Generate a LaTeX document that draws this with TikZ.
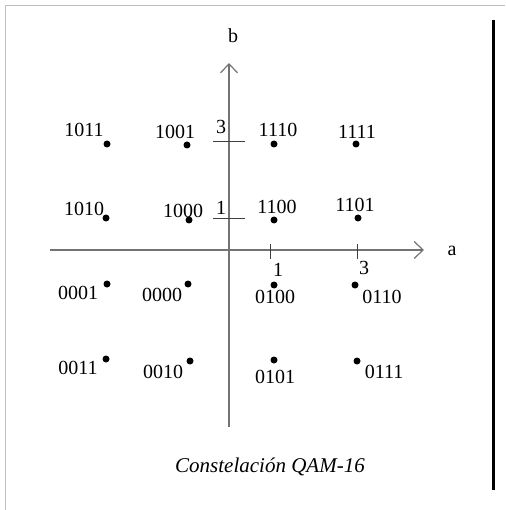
\documentclass[tikz,border=0pt]{standalone}
\usepackage{fontspec}
\setmainfont{Liberation Serif}
\usetikzlibrary{arrows.meta}

\begin{document}
\begin{tikzpicture}[x=1pt, y=-1pt, every node/.style={inner sep=0pt, font=\fontsize{20}{22}\selectfont},
		dot/.style={circle, fill=black, minimum size=7pt},
		axis/.style={draw=black!55, line width=1.8pt, -{Straight Barb[length=9pt, width=17pt, line width=1.2pt]}},
		tick/.style={draw=black!75, line width=0.9pt}]
				\useasboundingbox (0,0) rectangle (505,510);
				\draw[black!25, line width=1pt] (505,6) -- (5,6) -- (5,510);
				\draw[black, line width=3pt] (493,20) -- (493,490);
				\coordinate (aStart) at (50,250);
				\coordinate (aEnd) at (424,250);
				\coordinate (bStart) at (229,427);
				\coordinate (bEnd) at (229,63);
				\draw[axis] (aStart) -- (aEnd);
				\draw[axis] (bStart) -- (bEnd);
				\node (a) at (452,251) {a};
				\node (b) at (233,36) {b};
				\coordinate (ta1) at (270,244);
				\coordinate (ta1e) at (270,259);
				\coordinate (ta3) at (357,244);
				\coordinate (ta3e) at (357,259);
				\coordinate (tb1) at (213,218);
				\coordinate (tb1e) at (245,218);
				\coordinate (tb3) at (213,141);
				\coordinate (tb3e) at (245,141);
				\draw[tick] (ta1) -- (ta1e);
				\draw[tick] (ta3) -- (ta3e);
				\draw[tick] (tb1) -- (tb1e);
				\draw[tick] (tb3) -- (tb3e);
				\node (na1) at (278,270) {1};
				\node (na3) at (364,268) {3};
				\node (nb1) at (221,208) {1};
				\node (nb3) at (221,127) {3};
				\node[dot] (p1011) at (107,144) {};
				\node[dot] (p1001) at (187,145) {};
				\node[dot] (p1110) at (274,144) {};
				\node[dot] (p1111) at (356,144) {};
				\node[dot] (p1010) at (106,218) {};
				\node[dot] (p1000) at (189,220) {};
				\node[dot] (p1100) at (274,220) {};
				\node[dot] (p1101) at (358,218) {};
				\node[dot] (p0001) at (107,284) {};
				\node[dot] (p0000) at (188,284) {};
				\node[dot] (p0100) at (274,285) {};
				\node[dot] (p0110) at (355,285) {};
				\node[dot] (p0011) at (106,359) {};
				\node[dot] (p0010) at (190,361) {};
				\node[dot] (p0101) at (274,360) {};
				\node[dot] (p0111) at (357,361) {};
				\node (l1011) at (84,130) {1011};
				\node (l1001) at (175,132) {1001};
				\node (l1110) at (278,130) {1110};
				\node (l1111) at (357,132) {1111};
				\node (l1010) at (84,209) {1010};
				\node (l1000) at (183,211) {1000};
				\node (l1100) at (277,207) {1100};
				\node (l1101) at (355,205) {1101};
				\node (l0001) at (78,293) {0001};
				\node (l0000) at (162,295) {0000};
				\node (l0100) at (275,297) {0100};
				\node (l0110) at (382,297) {0110};
				\node (l0011) at (78,368) {0011};
				\node (l0010) at (163,372) {0010};
				\node (l0101) at (275,377) {0101};
				\node (l0111) at (384,372) {0111};
				\node[font=\fontsize{21}{24}\selectfont\itshape] (caption) at (270,467) {Constelación QAM-16};
			\end{tikzpicture}
\end{document}
